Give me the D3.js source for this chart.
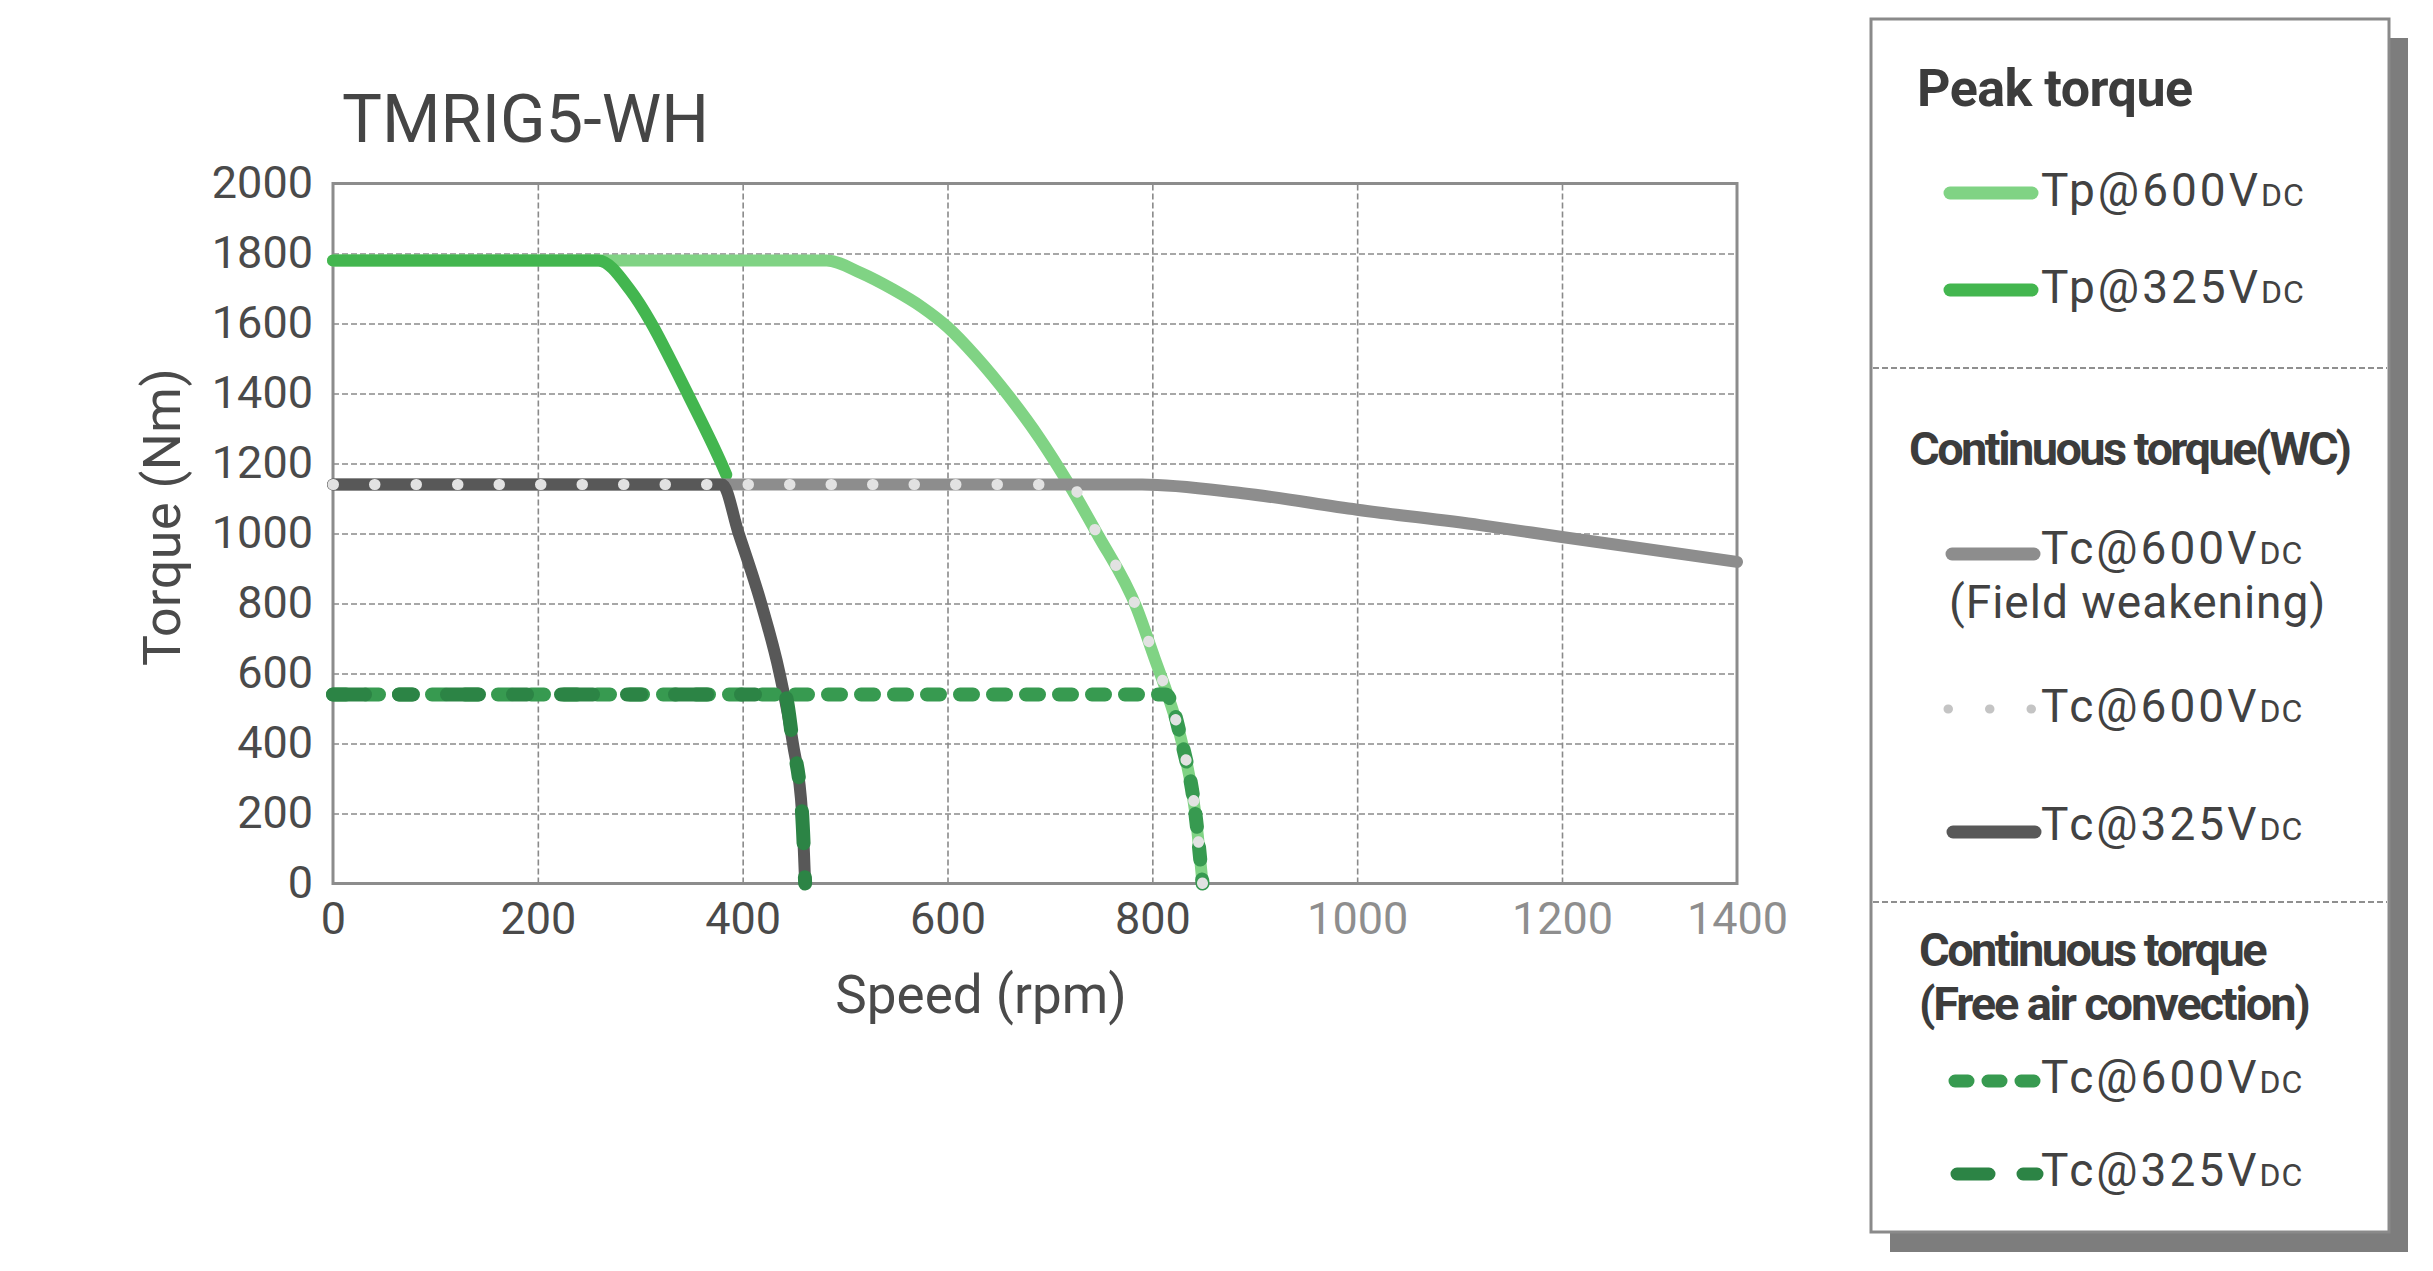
<!DOCTYPE html>
<html>
<head>
<meta charset="UTF-8">
<title>TMRIG5-WH</title>
<style>
  html, body { margin: 0; padding: 0; background: #fff; }
  svg { display: block; }
</style>
</head>
<body>
<svg id="chart"></svg>
<script src="https://cdn.jsdelivr.net/npm/d3@7/dist/d3.min.js"></script>
<script>
// curve points: [speed rpm, torque Nm]
var tp600 = [[0, 1780], [482, 1780], [515, 1745], [547, 1697], [575, 1647], [600, 1590], [628, 1505], [660, 1392],
  [690, 1272], [718, 1143], [746, 1000], [785, 785], [802, 645], [816, 530], [829, 401], [842, 201], [849, 0]];
var tp325 = [[0, 1780], [259, 1780], [290, 1696], [311, 1600], [329, 1500], [347, 1395], [380, 1195], [384, 1168]];
var tc600fw = [[0, 1140], [790, 1140], [888, 1115], [1000, 1068], [1120, 1024], [1200, 990], [1400, 919]];
var tc600 = [[0, 1140], [718, 1140], [746, 1000], [785, 785], [802, 645], [816, 530], [829, 401], [842, 201], [849, 0]];
var tc325 = [[0, 1140], [380, 1140], [396, 1001], [418, 801], [436, 601], [449, 401], [458, 201], [461, 0]];
var fa600 = [[0, 540], [813, 540], [829, 401], [842, 201], [849, 0]];
var fa325 = [[0, 540], [441, 540], [449, 401], [458, 201], [461, 0]];

var xTicks = [0, 200, 400, 600, 800, 1000, 1200, 1400];
var yTicks = [0, 200, 400, 600, 800, 1000, 1200, 1400, 1600, 1800, 2000];

var FONT = "Roboto, 'Noto Sans', sans-serif";
var INK = "#424242";

// line styles, in drawing order (gray over the peak lines, dashes and dots on top)
var styles = {
  tp600:   { data: tp600,   color: "#80d384", width: 12, dash: null },
  tp325:   { data: tp325,   color: "#43b64f", width: 12, dash: null },
  tc600fw: { data: tc600fw, color: "#8d8d8d", width: 12, dash: null },
  tc325:   { data: tc325,   color: "#585858", width: 12, dash: null },
  fa600:   { data: fa600,   color: "#379a50", width: 14, dash: "13,20" },
  fa325:   { data: fa325,   color: "#2c8445", width: 14, dash: "32,34,14,34" },
  tc600:   { data: tc600,   color: "#e2e2e2", width: 11, dash: "0.5,41" }
};
var order = ["tp600", "tp325", "tc600fw", "tc325", "fa600", "fa325", "tc600"];

var W = 2433, H = 1271;
var svg = d3.select("#chart").attr("width", W).attr("height", H);
svg.append("rect").attr("width", W).attr("height", H).attr("fill", "#fff");

// the printed x axis is uneven: the last 200 rpm step is squeezed
var x = d3.scaleLinear().domain([0, 1200, 1400]).range([333, 1562, 1737]);
var y = d3.scaleLinear().domain([0, 2000]).range([883.5, 183.5]);

var plotH = y(0) - y(2000);
var plotW = x(1400) - x(0);

// grid + tick labels
var gx = svg.append("g").attr("transform", "translate(0," + y(0) + ")")
  .call(d3.axisBottom(x).tickValues(xTicks).tickFormat(d3.format("d")).tickSize(-plotH).tickPadding(19));
var gy = svg.append("g").attr("transform", "translate(" + x(0) + ",0)")
  .call(d3.axisLeft(y).tickValues(yTicks).tickFormat(d3.format("d")).tickSize(-plotW).tickPadding(20));

[gx, gy].forEach(function(g) {
  g.select(".domain").remove();
  g.selectAll(".tick line")
    .attr("stroke", "#8a8a8a")
    .attr("stroke-width", 1.6)
    .attr("stroke-dasharray", "6,3");
  g.selectAll(".tick text")
    .style("font-family", FONT)
    .style("font-size", "45px");
});
gx.selectAll(".tick line").filter(function(d) { return d === 0 || d === 1400; }).remove();
gy.selectAll(".tick line").filter(function(d) { return d === 0 || d === 2000; }).remove();
gx.selectAll(".tick text").style("fill", function(d) { return d >= 1000 ? "#8e8e8e" : "#4a4a4a"; });
gy.selectAll(".tick text").style("fill", "#4a4a4a");

svg.append("rect")
  .attr("x", x(0)).attr("y", y(2000))
  .attr("width", plotW).attr("height", plotH)
  .attr("fill", "none").attr("stroke", "#8c8c8c").attr("stroke-width", 3);

// titles
svg.append("text").text("TMRIG5-WH")
  .attr("x", 342).attr("y", 142)
  .style("font-family", FONT).style("font-size", "67px").style("fill", "#454545");

svg.append("text").text("Torque (Nm)")
  .attr("transform", "translate(180,517) rotate(-90)")
  .attr("text-anchor", "middle")
  .style("font-family", FONT).style("font-size", "52px").style("letter-spacing", "0.5px")
  .style("fill", "#4a4a4a");

svg.append("text").text("Speed (rpm)")
  .attr("x", 981).attr("y", 1013).attr("text-anchor", "middle")
  .style("font-family", FONT).style("font-size", "53px").style("fill", "#4a4a4a");

// curves
var line = d3.line()
  .x(function(d) { return x(d[0]); })
  .y(function(d) { return y(d[1]); })
  .curve(d3.curveMonotoneX);

var gCurves = svg.append("g");
order.forEach(function(k) {
  var s = styles[k];
  gCurves.append("path")
    .datum(s.data)
    .attr("d", line)
    .attr("fill", "none")
    .attr("stroke", s.color)
    .attr("stroke-width", s.width)
    .attr("stroke-linecap", "round")
    .attr("stroke-linejoin", "round")
    .attr("stroke-dasharray", s.dash);
});

// legend box
var lg = svg.append("g");
lg.append("rect").attr("x", 1890).attr("y", 38).attr("width", 518).attr("height", 1214).attr("fill", "#7d7d7d");
lg.append("rect").attr("x", 1871).attr("y", 19).attr("width", 518).attr("height", 1213)
  .attr("fill", "#fff").attr("stroke", "#8a8a8a").attr("stroke-width", 3);
[368, 902].forEach(function(yy) {
  lg.append("line").attr("x1", 1873).attr("x2", 2387).attr("y1", yy).attr("y2", yy)
    .attr("stroke", "#8f8f8f").attr("stroke-width", 2).attr("stroke-dasharray", "6,3");
});

var headers = [
  { text: "Peak torque", x: 1917, y: 106, size: 52, ls: -0.5 },
  { text: "Continuous torque(WC)", x: 1909, y: 465, size: 47, ls: -2.6 },
  { text: "Continuous torque", x: 1919, y: 966, size: 47, ls: -2.6 },
  { text: "(Free air convection)", x: 1919, y: 1020, size: 47, ls: -2.2 }
];
headers.forEach(function(h) {
  lg.append("text").text(h.text).attr("x", h.x).attr("y", h.y)
    .style("font-family", FONT).style("font-weight", "bold")
    .style("font-size", h.size + "px").style("letter-spacing", h.ls + "px")
    .style("fill", "#3c3c3c");
});

// legend entries: sample line from x0 to x1 at ly, label baseline at ty
var entries = [
  { key: "tp600",   label: "Tp@600V", x0: 1950, x1: 2032, ly: 193,  ty: 206 },
  { key: "tp325",   label: "Tp@325V", x0: 1950, x1: 2032, ly: 290,  ty: 303 },
  { key: "tc600fw", label: "Tc@600V", x0: 1952, x1: 2034, ly: 554,  ty: 564, note: "(Field weakening)" },
  { key: "tc600",   label: "Tc@600V", x0: 1948, x1: 2036, ly: 709,  ty: 722 },
  { key: "tc325",   label: "Tc@325V", x0: 1953, x1: 2035, ly: 832,  ty: 840 },
  { key: "fa600",   label: "Tc@600V", x0: 1955, x1: 2034, ly: 1081, ty: 1093 },
  { key: "fa325",   label: "Tc@325V", x0: 1957, x1: 2037, ly: 1174, ty: 1186 }
];
entries.forEach(function(e) {
  var s = styles[e.key];
  lg.append("line")
    .attr("x1", e.x0).attr("x2", e.x1).attr("y1", e.ly).attr("y2", e.ly)
    .attr("stroke", e.key === "tc600" ? "#c4c4c4" : s.color)
    .attr("stroke-width", e.key === "tc600" ? 9 : 13)
    .attr("stroke-linecap", "round")
    .attr("stroke-dasharray", s.dash);
  var t = lg.append("text").attr("x", 2041).attr("y", e.ty)
    .style("font-family", FONT).style("font-size", "46px").style("fill", INK);
  t.append("tspan").text(e.label).style("letter-spacing", "3px");
  t.append("tspan").text("DC").style("font-size", "32px").style("letter-spacing", "1px");
  if (e.note) {
    lg.append("text").text(e.note).attr("x", 1949).attr("y", 618)
      .style("font-family", FONT).style("font-size", "46px").style("letter-spacing", "1px")
      .style("fill", INK);
  }
});
</script>
</body>
</html>
